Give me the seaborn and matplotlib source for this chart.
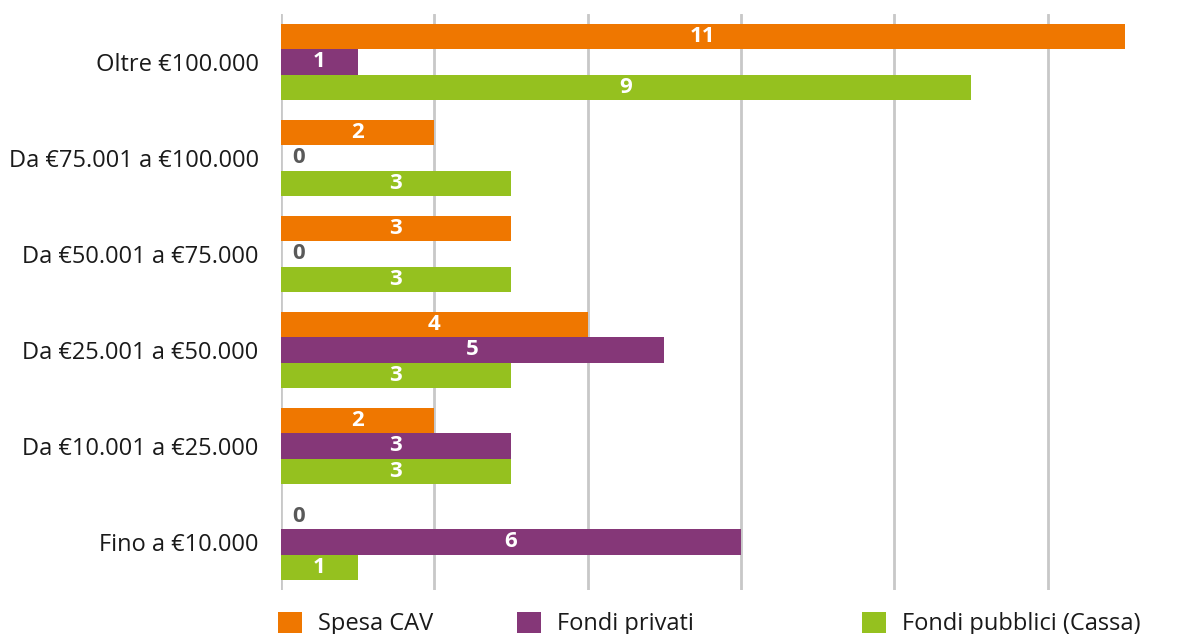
import matplotlib
matplotlib.use('Agg')
import matplotlib.pyplot as plt
import seaborn as sns
import pandas as pd
from matplotlib.patches import Patch

# Categories (top to bottom) and series values
categories = ['Oltre €100.000', 'Da €75.001 a €100.000', 'Da €50.001 a €75.000',
              'Da €25.001 a €50.000', 'Da €10.001 a €25.000', 'Fino a €10.000']
series = ['Spesa CAV', 'Fondi privati', 'Fondi pubblici (Cassa)']
spesa_cav = [11, 2, 3, 4, 2, 0]
fondi_privati = [1, 0, 0, 5, 3, 6]
fondi_pubblici = [9, 3, 3, 3, 3, 1]
colors = ['#EF7700', '#853778', '#95C11F']

df = pd.DataFrame({
    'Fascia': categories * 3,
    'Serie': [s for s in series for _ in categories],
    'Valore': spesa_cav + fondi_privati + fondi_pubblici,
})

sns.set_style('white')
plt.rcParams['font.family'] = ['Open Sans', 'DejaVu Sans']

fig = plt.figure(figsize=(11.92, 6.34), dpi=100)
ax = fig.add_axes([0.2357, 0.0694, 0.7643, 0.9086])

sns.barplot(data=df, y='Fascia', x='Valore', hue='Serie', order=categories,
            hue_order=series, palette=colors, orient='h', width=0.8,
            saturation=1, ax=ax, legend=False, edgecolor='none', linewidth=0)

ax.set_xlim(0, 11.88)
ax.set_xticks([0, 2, 4, 6, 8, 10])
ax.xaxis.grid(True, color='#C8C8C8', linewidth=2)
ax.set_axisbelow(True)
ax.tick_params(axis='x', length=0, labelbottom=False)
ax.tick_params(axis='y', length=0, labelsize=17, pad=16, labelcolor='#1a1a1a')
ax.set_xlabel('')
ax.set_ylabel('')
for s in ax.spines.values():
    s.set_visible(False)

# value labels
for cont in ax.containers:
    for bar in cont:
        w = bar.get_width()
        yc = bar.get_y() + bar.get_height() / 2
        if w > 0:
            ax.text(w / 2, yc, f'{w:.0f}', ha='center', va='center',
                    color='white', fontsize=16, fontweight='bold')
        else:
            ax.text(0.23, yc, '0', ha='center', va='center',
                    color='#595959', fontsize=16, fontweight='bold')

# legend entries placed separately
leg_x = [278 / 1192, 517 / 1192, 862 / 1192]
for name, col, lx in zip(series, colors, leg_x):
    fig.legend(handles=[Patch(facecolor=col, edgecolor='none')], labels=[name],
               loc='center left', bbox_to_anchor=(lx, 1 - 624 / 634),
               frameon=False, fontsize=17, handlelength=1.0, handleheight=1.0,
               handletextpad=0.7, borderpad=0, borderaxespad=0,
               labelcolor='#1a1a1a')

fig.savefig('out.png', dpi=100)
